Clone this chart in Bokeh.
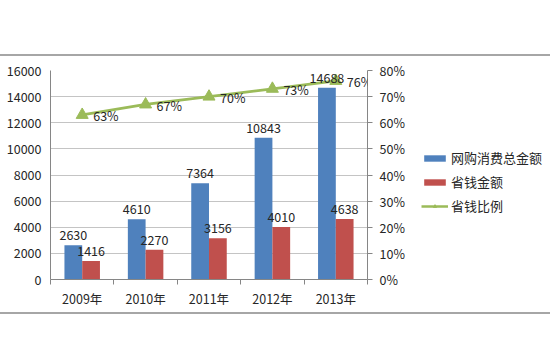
from bokeh.plotting import figure
from bokeh.layouts import column, row
from bokeh.models import (Range1d, LinearAxis, FixedTicker, NumeralTickFormatter, Legend,
                          LegendItem, ColumnDataSource, LabelSet, Div, Spacer)
from bokeh.transform import dodge
from bokeh.core.properties import value
from bokeh.embed import file_html
from bokeh.resources import INLINE

years = ["2009年", "2010年", "2011年", "2012年", "2013年"]
total = [2630, 4610, 7364, 10843, 14688]
saved = [1416, 2270, 3156, 4010, 4638]
ratio = [0.63, 0.67, 0.70, 0.73, 0.76]
ratio_text = ["63%", "67%", "70%", "73%", "76%"]
series_names = ["网购消费总金额", "省钱金额", "省钱比例"]
left_ticks = [0, 2000, 4000, 6000, 8000, 10000, 12000, 14000, 16000]
right_ticks = [0, 0.1, 0.2, 0.3, 0.4, 0.5, 0.6, 0.7, 0.8]

FONT = "Noto Sans CJK SC"
FS = "12.5px"
TXT = "#262626"
AX = "#868686"
RULE = "#A6A6A6"
BLUE, RED, GREEN = "#4F81BD", "#C0504D", "#9BBB59"

xs = list(range(len(years)))
src = ColumnDataSource(dict(x=xs, total=total, saved=saved, ratio=ratio,
                            total_t=[str(v) for v in total],
                            saved_t=[str(v) for v in saved],
                            ratio_t=ratio_text))

p = figure(width=407, height=256, output_backend="svg", toolbar_location=None,
           x_range=Range1d(-0.5, len(years) - 0.5), y_range=Range1d(0, 16000),
           min_border_left=50, min_border_right=37, min_border_top=14, min_border_bottom=33)
p.outline_line_color = None
p.background_fill_color = "white"
p.border_fill_color = "white"
p.extra_y_ranges = {"pct": Range1d(0, 0.8)}

# bars
p.vbar(x=dodge("x", -0.14, range=p.x_range), top="total", width=0.28, source=src,
       fill_color=BLUE, line_color=None)
p.vbar(x=dodge("x", 0.14, range=p.x_range), top="saved", width=0.28, source=src,
       fill_color=RED, line_color=None)

# line
p.line(x="x", y="ratio", source=src, y_range_name="pct", line_color=GREEN, line_width=2.8)
p.scatter(x="x", y="ratio", source=src, y_range_name="pct", marker="triangle", size=12,
          fill_color=GREEN, line_color=GREEN)

# labels
for col, txt, off in (("total", "total_t", -0.14), ("saved", "saved_t", 0.14)):
    p.add_layout(LabelSet(x=dodge("x", off, range=p.x_range), y=col, text=txt, source=src,
                          y_offset=5, text_align="center", text_baseline="bottom",
                          text_font=value(FONT), text_font_size=value(FS), text_color=TXT))
p.add_layout(LabelSet(x="x", y="ratio", text="ratio_t", source=src, y_range_name="pct",
                      x_offset=11, y_offset=-1, text_align="left", text_baseline="middle",
                      text_font=value(FONT), text_font_size=value(FS), text_color=TXT))

# axes
p.xaxis.ticker = FixedTicker(ticks=xs, minor_ticks=[i - 0.5 for i in range(len(years) + 1)])
p.xaxis.major_label_overrides = {i: y for i, y in enumerate(years)}
p.xaxis.major_tick_out = 0
p.xaxis.major_tick_in = 0
p.xaxis.minor_tick_out = 5
p.xaxis.minor_tick_in = 0
p.xaxis.minor_tick_line_color = AX
p.xaxis.axis_line_color = AX
p.xaxis.major_label_standoff = 4

p.yaxis.ticker = FixedTicker(ticks=left_ticks)
p.yaxis.major_tick_out = 0
p.yaxis.major_tick_in = 0
p.yaxis.minor_tick_line_color = None
p.yaxis.axis_line_color = AX
p.yaxis.major_label_standoff = 9

ra = LinearAxis(y_range_name="pct", ticker=FixedTicker(ticks=right_ticks),
                formatter=NumeralTickFormatter(format="0%"))
ra.major_tick_out = 5
ra.major_tick_in = 0
ra.major_tick_line_color = AX
ra.minor_tick_line_color = None
ra.axis_line_color = AX
ra.major_label_standoff = 7
p.add_layout(ra, "right")

for ax in (p.xaxis[0], p.yaxis[0], ra):
    ax.major_label_text_font = FONT
    ax.major_label_text_font_size = FS
    ax.major_label_text_color = TXT

p.xgrid.visible = False
p.ygrid.ticker = FixedTicker(ticks=left_ticks)
p.ygrid.grid_line_color = "#C4C4C4"

# legend panel: a second, axis-less figure holding hidden copies of the series
pl = figure(width=143, height=256, output_backend="svg", toolbar_location=None,
            x_axis_type=None, y_axis_type=None, min_border=0,
            x_range=Range1d(-0.5, len(years) - 0.5), y_range=Range1d(0, 16000))
pl.outline_line_color = None
pl.grid.visible = False
pl.extra_y_ranges = {"pct": Range1d(0, 0.8)}
lb1 = pl.vbar(x="x", top="total", width=0.28, source=src, fill_color=BLUE, line_color=None, visible=False)
lb2 = pl.vbar(x="x", top="saved", width=0.28, source=src, fill_color=RED, line_color=None, visible=False)
lln = pl.line(x="x", y="ratio", source=src, y_range_name="pct", line_color=GREEN, line_width=2.5, visible=False)
lmk = pl.scatter(x="x", y="ratio", source=src, y_range_name="pct", marker="triangle", size=12,
                 fill_color=GREEN, line_color=GREEN, visible=False)

legend = Legend(items=[LegendItem(label=series_names[0], renderers=[lb1]),
                       LegendItem(label=series_names[1], renderers=[lb2]),
                       LegendItem(label=series_names[2], renderers=[lln, lmk])],
                location=(14, 64), orientation="vertical")
legend.glyph_width = 27
legend.glyph_height = 8
legend.label_height = 16
legend.spacing = 5
legend.padding = 0
legend.margin = 0
legend.label_standoff = 3
legend.border_line_color = None
legend.background_fill_alpha = 0
legend.inactive_fill_alpha = 0
legend.label_text_font = FONT
legend.label_text_font_size = "13px"
legend.label_text_color = TXT
pl.add_layout(legend, "center")

top_gap = Spacer(width=550, height=54, margin=0)
rule_top = Div(text="", width=550, height=2, margin=0, styles={"background-color": RULE})
rule_bot = Div(text="", width=550, height=2, margin=0, styles={"background-color": RULE})

layout = column(top_gap, rule_top, row(p, pl, spacing=0), rule_bot, spacing=0)
open("out.html", "w").write(file_html(layout, INLINE))
